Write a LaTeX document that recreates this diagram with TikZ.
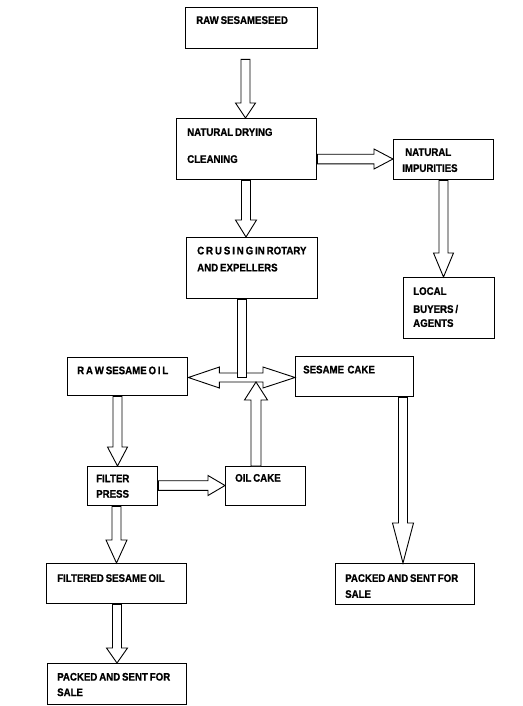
\documentclass[tikz,border=0pt]{standalone}
\usepackage{fontspec}
\setmainfont{Liberation Sans}[FakeStretch=0.88, WordSpace=0.7, BoldFeatures={FakeBold=0.8}]
\usetikzlibrary{calc}
\tikzset{
 box/.style={draw, line width=1.4pt, anchor=north west, inner sep=0pt},
 txt/.style={anchor=base west, inner sep=0pt, font=\fontsize{11}{13}\selectfont\bfseries},
 blk/.style={draw, fill=white, line width=0.9pt, line join=miter, miter limit=10},
}
\newcommand\bx[5]{\node[box, minimum width=#4pt-#2pt, minimum height=#5pt-#3pt] (#1) at (#2pt,-#3pt) {};}
% down block arrow: x, from anchor, to anchor, start gap, head length, head half width
\newcommand\darr[6]{\draw[blk] let \p1=(#2), \p2=(#3) in
 (#1pt-4.5pt,\y1-#4pt) -- (#1pt-4.5pt,\y2+#5pt) -- (#1pt-#6pt,\y2+#5pt) -- (#1pt,\y2)
 -- (#1pt+#6pt,\y2+#5pt) -- (#1pt+4.5pt,\y2+#5pt) -- (#1pt+4.5pt,\y1-#4pt) -- cycle;}
% right block arrow: y, from anchor, to anchor, start gap, head length, head half width
\newcommand\rarr[6]{\draw[blk] let \p1=(#2), \p2=(#3) in
 (\x1+#4pt,-#1pt+4.8pt) -- (\x2-#5pt,-#1pt+4.8pt) -- (\x2-#5pt,-#1pt+#6pt) -- (\x2,-#1pt)
 -- (\x2-#5pt,-#1pt-#6pt) -- (\x2-#5pt,-#1pt-4.8pt) -- (\x1+#4pt,-#1pt-4.8pt) -- cycle;}
\begin{document}
\begin{tikzpicture}[x=1pt,y=1pt]
\useasboundingbox (0,0) rectangle (522,-706);
% boxes
\bx{seed}{185}{7}{317}{48}
\bx{dry}{176}{118}{316}{179}
\bx{imp}{393}{139}{493}{179}
\bx{local}{403}{277}{494}{338}
\bx{crus}{186}{237}{317}{298}
\bx{rawoil}{67}{357}{187}{395}
\bx{cake}{295}{356}{413}{396}
\bx{filter}{87}{466}{157}{505}
\bx{oilcake}{225}{466}{305}{505}
\bx{filtered}{46}{563}{186}{603}
\bx{packL}{47}{663}{186}{704}
\bx{packR}{335}{563}{474}{604}
% texts
\node[txt] (t1) at (196,-23.9) {RAW SESAMESEED};
\node[txt] (t2a) at (187,-135.9) {NATURAL DRYING};
\node[txt] (t2b) at (187,-162.9) {CLEANING};
\node[txt] (t3a) at (405,-155.9) {NATURAL};
\node[txt] (t3b) at (402,-171.9) {IMPURITIES};
\node[txt] (t4a) at (413,-294.9) {LOCAL};
\node[txt] (t4b) at (413,-312.9) {BUYERS /};
\node[txt] (t4c) at (413,-326.9) {AGENTS};
\node[txt] (t5a) at (197,-254.4) {C\kern1.9pt R\kern1.9pt U\kern1.9pt S\kern1.9pt I\kern1.9pt N\kern1.9pt G IN ROTARY};
\node[txt] (t5b) at (197,-271.4) {AND EXPELLERS};
\node[txt] (t6) at (77,-374.2) {R\kern1.8pt A\kern1.8pt W SESAME O\kern1.8pt I\kern1.8pt L};
\node[txt] (t7) at (303,-373.4) {SESAME\kern1.5pt{} CAKE};
\node[txt] (t8a) at (96,-482.2) {FILTER};
\node[txt] (t8b) at (96,-497.7) {PRESS};
\node[txt] (t9) at (235,-481.7) {OIL CAKE};
\node[txt] (t10) at (57,-581.9) {FILTERED SESAME OIL};
\node[txt] (t11a) at (57,-680.6) {PACKED AND SENT FOR};
\node[txt] (t11b) at (57,-696.1) {SALE};
\node[txt] (t12a) at (345,-581.9) {PACKED AND SENT FOR};
\node[txt] (t12b) at (345,-597.9) {SALE};
% arrows
\darr{245.5}{seed.south}{dry.north}{10}{15}{10}
\darr{246}{dry.south}{crus.north}{0}{17}{10.5}
\rarr{159}{dry.east}{imp.west}{0}{19}{10}
\darr{443.5}{imp.south}{local.north}{0}{24}{10}
% double arrow between raw oil and sesame cake
\draw[blk] let \p1=(rawoil.east), \p2=(cake.west) in
 (\x1,-377.5) -- (\x1+31pt,-367) -- (\x1+31pt,-373) -- (\x2-32pt,-373) -- (\x2-32pt,-367)
 -- (\x2,-377.5) -- (\x2-32pt,-388) -- (\x2-32pt,-382) -- (\x1+31pt,-382) -- (\x1+31pt,-388) -- cycle;
% shaft from crushing
\draw[blk] let \p1=(crus.south) in (237,\y1) rectangle (246,-377);
% up arrow from oil cake
\draw[blk] let \p1=(oilcake.north) in
 (251,\y1) -- (251,-400) -- (244.5,-400) -- (256,-382) -- (267.5,-400) -- (261,-400) -- (261,\y1) -- cycle;
\darr{117.5}{rawoil.south}{filter.north}{0}{19}{10}
\rarr{485.5}{filter.east}{oilcake.west}{0}{17}{10}
\darr{116.5}{filter.south}{filtered.north}{0}{23}{10.5}
\darr{117}{filtered.south}{packL.north}{0}{15}{10.5}
\darr{403}{cake.south}{packR.north}{0}{40}{10.5}
\end{tikzpicture}
\end{document}
